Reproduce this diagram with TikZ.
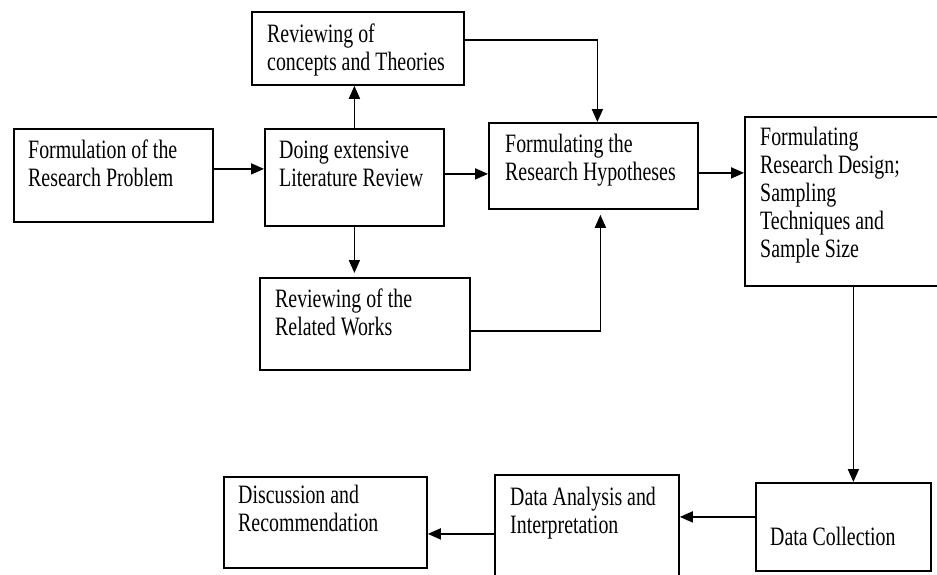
\documentclass[tikz,border=0pt]{standalone}
\usepackage{fontspec}
\setmainfont{Liberation Serif}[FakeStretch=0.75]
\usetikzlibrary{arrows.meta}

\begin{document}
\begin{tikzpicture}[x=1pt,y=-1pt,
		stage/.style={draw,rectangle,line width=1.8pt,inner sep=0pt,anchor=north west},
		stagetext/.style={anchor=north west,align=left,inner sep=0pt,font=\fontsize{26.5}{28}\selectfont},
		flow/.style={line width=1.7pt,-{Triangle[length=13pt,width=11pt]}}]
			\useasboundingbox (0,0) rectangle (937,574);
			\clip (0,0) rectangle (937,574);
			
			\node(prob) at (13,128)[stage,minimum width=199pt,minimum height=93pt]{};
			\node(lit) at (264,128)[stage,minimum width=179pt,minimum height=97pt]{};
			\node(conc) at (251,11)[stage,minimum width=212pt,minimum height=73pt]{};
			\node(rel) at (259,277)[stage,minimum width=210pt,minimum height=92pt]{};
			\node(hyp) at (488,122)[stage,minimum width=209pt,minimum height=86pt]{};
			\node(design) at (744,116)[stage,minimum width=200pt,minimum height=169pt]{};
			\node(collect) at (755,482)[stage,minimum width=175pt,minimum height=88pt]{};
			\node(analysis) at (494,474)[stage,minimum width=184pt,minimum height=116pt]{};
			\node(discuss) at (223,476)[stage,minimum width=203pt,minimum height=91pt]{};
			
			\node(probtxt) at ([shift={(15pt,-12pt)}]prob.north west)[stagetext]{Formulation of the\\Research Problem};
			\node(littxt) at ([shift={(15pt,-13pt)}]lit.north west)[stagetext]{Doing extensive\\Literature Review};
			\node(conctxt) at ([shift={(16pt,-13pt)}]conc.north west)[stagetext]{Reviewing of\\concepts and Theories};
			\node(reltxt) at ([shift={(16pt,-12pt)}]rel.north west)[stagetext]{Reviewing of the\\Related Works};
			\node(hyptxt) at ([shift={(17pt,-12pt)}]hyp.north west)[stagetext]{Formulating the\\Research Hypotheses};
			\node(designtxt) at ([shift={(16pt,-11pt)}]design.north west)[stagetext]{Formulating\\Research Design;\\Sampling\\Techniques and\\Sample Size};
			\node(collecttxt) at ([shift={(15pt,-45pt)}]collect.north west)[stagetext]{Data Collection};
			\node(analysistxt) at ([shift={(16pt,-13pt)}]analysis.north west)[stagetext]{Data Analysis and\\Interpretation};
			\node(discusstxt) at ([shift={(15pt,-9pt)}]discuss.north west)[stagetext]{Discussion and\\Recommendation};
			
			\draw[flow] ([yshift=6.5pt]prob.east) to ([yshift=6.5pt]prob.east -| lit.west);
			\draw[flow] ([yshift=3.5pt]lit.east) to ([yshift=3.5pt]lit.east -| hyp.west);
			\draw[flow] (lit.north) to (lit.north |- conc.south);
			\draw[flow] (lit.south) to ([yshift=4pt]lit.south |- rel.north);
			\draw[flow] ([yshift=8.5pt]conc.east) -| ([xshift=4pt]hyp.north);
			\draw[flow] ([yshift=-7pt]rel.east) -| ([xshift=7pt,yshift=-5pt]hyp.south);
			\draw[flow] ([yshift=-7pt]hyp.east) to ([yshift=-7pt]hyp.east -| design.west);
			\draw[flow] ([xshift=10pt]collect.north |- design.south) to ([xshift=10pt]collect.north);
			\draw[flow] ([yshift=10pt]collect.west) to ([yshift=10pt]collect.west -| analysis.east);
			\draw[flow] ([yshift=-1pt]analysis.west) to ([yshift=-1pt]analysis.west -| discuss.east);
		\end{tikzpicture}
\end{document}
